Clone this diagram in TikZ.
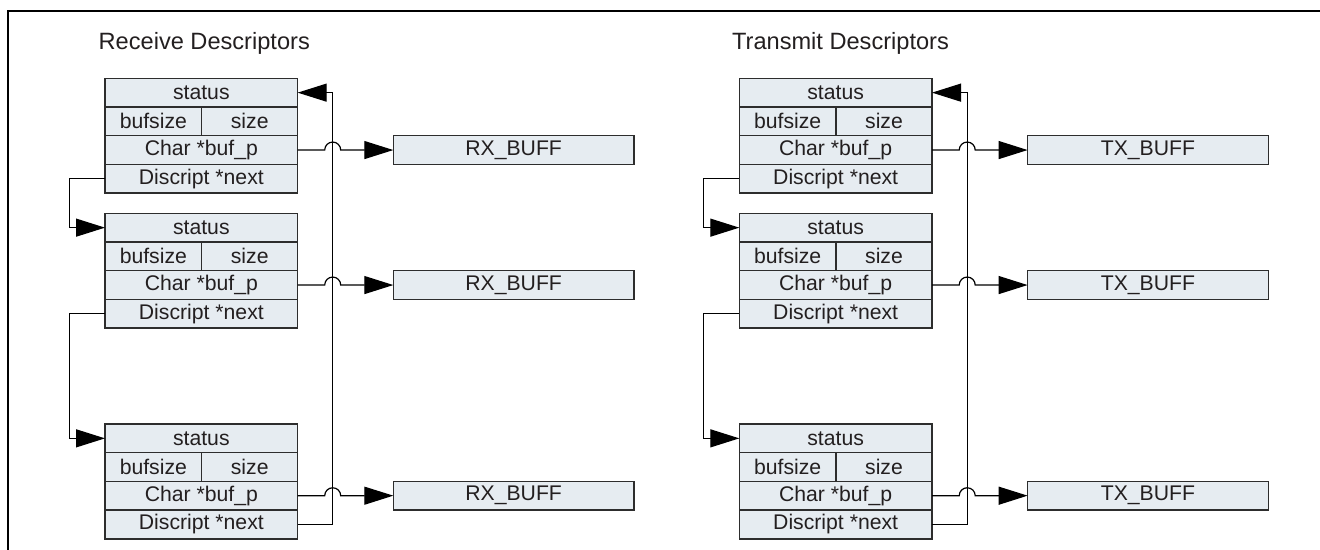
\documentclass[tikz,border=0pt]{standalone}
\usepackage{fontspec}
\setmainfont{Liberation Sans}
\usetikzlibrary{arrows.meta,calc}
\definecolor{cellfill}{RGB}{230,236,241}
\definecolor{celldraw}{RGB}{45,45,45}
\definecolor{txt}{RGB}{35,31,32}
\tikzset{
  cell/.style={draw=celldraw,fill=cellfill,line width=0.75pt,inner sep=0pt,outer sep=0pt,
    minimum height=14.35pt,text=txt,font=\fontsize{10.6pt}{12pt}\selectfont},
  buf/.style={cell,minimum width=120.35pt,anchor=north west},
  title/.style={text=txt,font=\fontsize{11.8pt}{13pt}\selectfont,anchor=base west,inner sep=0pt},
  conn/.style={draw=black,line width=0.6pt},
  arr/.style={conn,-{Triangle[length=14.5pt,width=9pt]}},
  frame/.style={draw=black,line width=1.2pt}
}
\newcommand\descblock[3]{%
  \node[cell,minimum width=96.35pt,anchor=north west] (#1s) at (#2,#3) {status};
  \node[cell,minimum width=48.35pt,anchor=north west] (#1b) at (#1s.south west) {bufsize};
  \node[cell,minimum width=48pt,anchor=north east] (#1z) at (#1s.south east) {size};
  \node[cell,minimum width=96.35pt,anchor=north west] (#1c) at (#1b.south west) {Char *buf\_p};
  \node[cell,minimum width=96.35pt,anchor=north west] (#1n) at (#1c.south west) {Discript *next};
}
\begin{document}
\begin{tikzpicture}[x=0.5pt,y=-0.5pt]
\useasboundingbox (0,0) rectangle (1320,550);
% frame
\coordinate (f1) at (8,550);
\coordinate (f2) at (8,11);
\coordinate (f3) at (1320,11);
\draw[frame] (f1) -- (f2) -- (f3);

% titles
\node[title] (t1) at (98.3,49.3) {Receive Descriptors};
\node[title] (t2) at (731.7,49.3) {Transmit Descriptors};

% ---------- left (receive) ----------
\descblock{a1}{105}{78.3}
\descblock{a2}{105}{213.3}
\descblock{a3}{105}{424}
\node[buf] (rx1) at (393.3,135.7) {RX\_BUFF};
\node[buf] (rx2) at (393.3,270.7) {RX\_BUFF};
\node[buf] (rx3) at (393.3,481.3) {RX\_BUFF};
\coordinate (la) at (69.3,0);
\coordinate (ra) at (332.7,0);

\draw[arr] (a1n.west) -- (a1n.west -| la) |- (a2s.west);
\draw[arr] (a2n.west) -- (a2n.west -| la) |- (a3s.west);
\draw[arr] (a3n.east) -- (a3n.east -| ra) |- (a1s.east);
\foreach \i in {1,2,3}{
  \draw[arr] (a\i c.east) -- ($(a\i c.east -| ra)+(-4pt,0)$)
    arc[start angle=180,end angle=0,radius=4pt] -- (rx\i.west);
}

% ---------- right (transmit) ----------
\descblock{b1}{739.3}{78.3}
\descblock{b2}{739.3}{213.3}
\descblock{b3}{739.3}{424}
\node[buf] (tx1) at (1027.6,135.7) {TX\_BUFF};
\node[buf] (tx2) at (1027.6,270.7) {TX\_BUFF};
\node[buf] (tx3) at (1027.6,481.3) {TX\_BUFF};
\coordinate (lb) at (703.3,0);
\coordinate (rb) at (967.2,0);

\draw[arr] (b1n.west) -- (b1n.west -| lb) |- (b2s.west);
\draw[arr] (b2n.west) -- (b2n.west -| lb) |- (b3s.west);
\draw[arr] (b3n.east) -- (b3n.east -| rb) |- (b1s.east);
\foreach \i in {1,2,3}{
  \draw[arr] (b\i c.east) -- ($(b\i c.east -| rb)+(-4pt,0)$)
    arc[start angle=180,end angle=0,radius=4pt] -- (tx\i.west);
}
\end{tikzpicture}
\end{document}
